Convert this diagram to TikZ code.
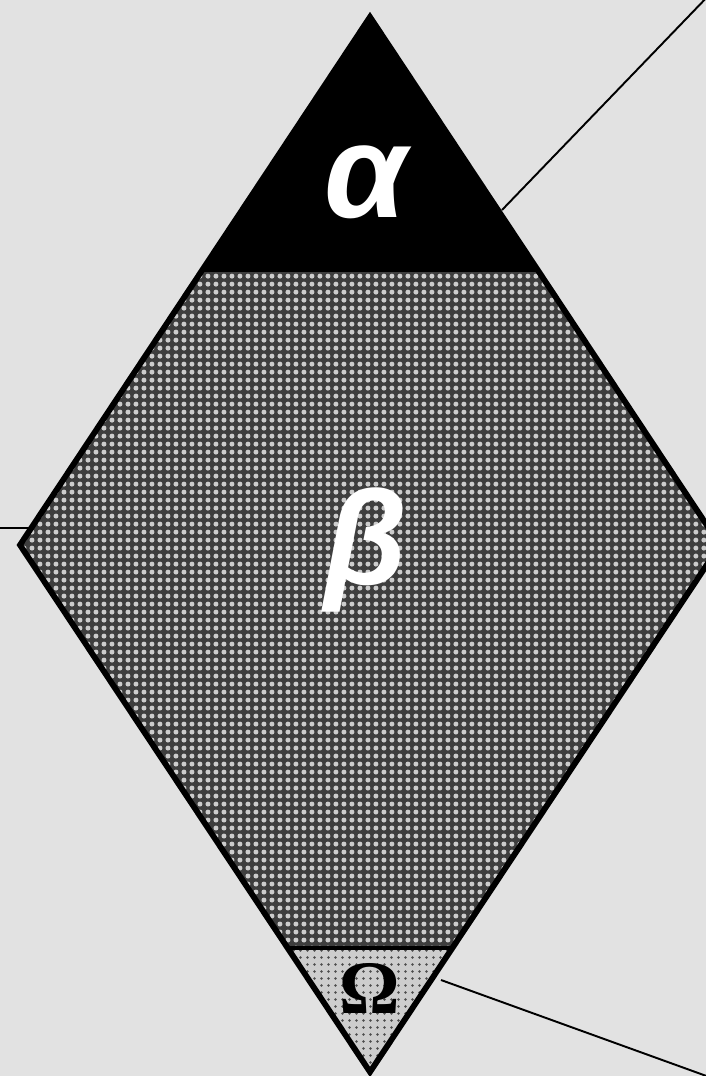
\documentclass[tikz,border=0pt]{standalone}
\usepackage{fontspec}
\usepackage{xcolor}
\definecolor{paper}{RGB}{226, 226, 226}
\definecolor{midgray}{RGB}{62, 62, 62}
\definecolor{lightdots}{RGB}{205, 205, 205}
\newfontfamily\greeksans{Liberation Sans}
\newfontfamily\greekserif{Liberation Serif}
\usetikzlibrary{patterns.meta}

\begin{document}
\begin{tikzpicture}[
    x=0.02cm, y=-0.02cm,
    outline/.style={line join=miter, line width=3.3pt, black},
    divider/.style={line width=2.6pt, black},
    leader/.style={line width=1.1pt, black},
    label/.style={inner sep=0pt, font=\fontsize{76}{76}\selectfont\greeksans\bfseries\itshape, text=white}
]

% background
\fill[paper] (0,0) rectangle (706,1076);
\useasboundingbox (0,0) rectangle (706,1076);

% corners of the rhombus
\coordinate (top) at (370,17);
\coordinate (left) at (20,545);
\coordinate (right) at (720,545);
\coordinate (bottom) at (370,1072);

% bands
\begin{scope}
  \clip (top) -- (right) -- (bottom) -- (left) -- cycle;
  \fill[midgray] (0,0) rectangle (720,1076);
  \fill[pattern={Dots[distance=0.16cm, radius=0.05cm]}, pattern color=white!80!black] (0,270) rectangle (720,948);
  \fill[black] (0,0) rectangle (720,270);
  \fill[lightdots] (0,948) rectangle (720,1076);
  \fill[pattern={Dots[distance=0.14cm, radius=0.028cm]}, pattern color=black!70] (0,948) rectangle (720,1076);
  \draw[divider] (0,270) -- (720,270);
  \draw[divider] (0,948) -- (720,948);
\end{scope}

% leader lines
\coordinate (tr) at (712,-8);
\coordinate (a1) at (502,210);
\coordinate (lf) at (0,528);
\coordinate (b1) at (240,528);
\coordinate (br) at (712,1078);
\coordinate (o1) at (441,980);
\draw[leader] (a1) -- (tr);
\draw[leader] (lf) -- (31,528);
\draw[line width=0.8pt, black!75] (31,528) -- (b1);
\draw[leader] (o1) -- (br);

\draw[outline] (top) -- (right) -- (bottom) -- (left) -- cycle;

% Nodes
\node (alpha) [label] at (366,182) {α};
\node (beta) [label] at (366,550) {β};
\node (omega) [inner sep=0pt, font=\fontsize{43}{43}\selectfont\greekserif\bfseries] at (370,988) {Ω};

\end{tikzpicture}
\end{document}
